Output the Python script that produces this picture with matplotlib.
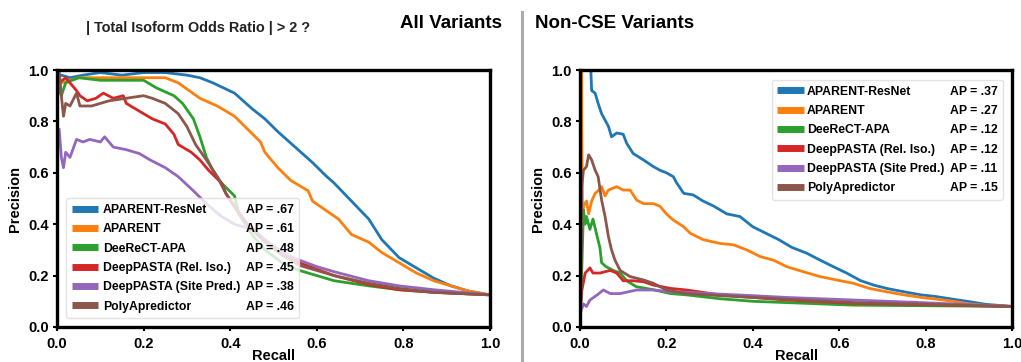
import matplotlib
matplotlib.use("Agg")
import matplotlib.pyplot as plt
from matplotlib.lines import Line2D

plt.rcParams['font.family'] = ['Liberation Sans', 'DejaVu Sans']
plt.rcParams['font.weight'] = 'bold'

models = ["APARENT-ResNet", "APARENT", "DeeReCT-APA", "DeepPASTA (Rel. Iso.)",
          "DeepPASTA (Site Pred.)", "PolyApredictor"]
colors = ["#1f77b4", "#ff7f0e", "#2ca02c", "#d62728", "#9467bd", "#8c564b"]
ap_all = [".67", ".61", ".48", ".45", ".38", ".46"]
ap_noncse = [".37", ".27", ".12", ".12", ".11", ".15"]

# ---------------- All Variants ----------------
all_resnet_r = [0.0, 0.01, 0.03, 0.06, 0.1, 0.15, 0.2, 0.25, 0.3, 0.33, 0.36, 0.41, 0.45, 0.48, 0.51,
                0.55, 0.59, 0.62, 0.64, 0.68, 0.72, 0.75, 0.79, 0.83, 0.87, 0.91, 0.95, 1.0]
all_resnet_p = [0.97, 0.98, 0.97, 0.98, 0.99, 0.98, 0.99, 0.99, 0.98, 0.97, 0.95, 0.91, 0.85, 0.81, 0.76,
                0.70, 0.64, 0.59, 0.56, 0.49, 0.42, 0.34, 0.27, 0.23, 0.19, 0.16, 0.14, 0.125]

all_aparent_r = [0.0, 0.01, 0.03, 0.05, 0.1, 0.15, 0.2, 0.25, 0.28, 0.33, 0.37, 0.41, 0.44, 0.47, 0.48,
                 0.51, 0.54, 0.58, 0.59, 0.62, 0.65, 0.68, 0.72, 0.75, 0.79, 0.83, 0.87, 0.91, 0.95, 1.0]
all_aparent_p = [0.98, 0.95, 0.96, 0.97, 0.97, 0.97, 0.97, 0.97, 0.95, 0.89, 0.86, 0.82, 0.77, 0.72, 0.68,
                 0.62, 0.57, 0.53, 0.49, 0.455, 0.42, 0.36, 0.33, 0.29, 0.25, 0.21, 0.18, 0.16, 0.14, 0.125]

all_deerect_r = [0.0, 0.005, 0.01, 0.02, 0.05, 0.1, 0.15, 0.2, 0.23, 0.27, 0.29, 0.315, 0.33, 0.345, 0.36,
                 0.38, 0.41, 0.42, 0.45, 0.48, 0.52, 0.56, 0.64, 0.72, 0.79, 0.87, 1.0]
all_deerect_p = [0.9, 0.93, 0.9, 0.95, 0.97, 0.96, 0.96, 0.96, 0.93, 0.90, 0.87, 0.81, 0.74, 0.66, 0.61,
                 0.56, 0.51, 0.44, 0.36, 0.30, 0.25, 0.22, 0.18, 0.16, 0.145, 0.135, 0.125]

all_deeppasta_r = [0.0, 0.005, 0.02, 0.03, 0.045, 0.053, 0.07, 0.09, 0.107, 0.13, 0.153, 0.16, 0.19, 0.22,
                   0.25, 0.27, 0.28, 0.31, 0.33, 0.35, 0.38, 0.39, 0.41, 0.44, 0.48, 0.52, 0.56, 0.64, 0.72,
                   0.79, 0.87, 1.0]
all_deeppasta_p = [0.95, 0.95, 0.97, 0.95, 0.92, 0.90, 0.88, 0.89, 0.91, 0.89, 0.90, 0.87, 0.84, 0.81,
                   0.79, 0.75, 0.71, 0.68, 0.65, 0.61, 0.56, 0.52, 0.47, 0.40, 0.34, 0.29, 0.25, 0.20, 0.165,
                   0.145, 0.135, 0.125]

all_site_r = [0.0, 0.005, 0.01, 0.015, 0.02, 0.03, 0.045, 0.06, 0.076, 0.1, 0.11, 0.13, 0.16, 0.19, 0.215,
              0.25, 0.28, 0.315, 0.345, 0.38, 0.41, 0.45, 0.48, 0.52, 0.56, 0.6, 0.64, 0.72, 0.79, 0.87, 1.0]
all_site_p = [0.70, 0.77, 0.66, 0.62, 0.68, 0.66, 0.73, 0.72, 0.73, 0.72, 0.74, 0.70, 0.69, 0.675, 0.65,
              0.62, 0.585, 0.53, 0.48, 0.43, 0.40, 0.38, 0.34, 0.29, 0.26, 0.235, 0.215, 0.18, 0.16, 0.145, 0.125]

all_polya_r = [0.0, 0.005, 0.01, 0.015, 0.02, 0.03, 0.045, 0.053, 0.08, 0.12, 0.16, 0.2, 0.22, 0.25, 0.28,
               0.30, 0.32, 0.345, 0.37, 0.39, 0.42, 0.45, 0.48, 0.52, 0.56, 0.64, 0.72, 0.79, 0.87, 1.0]
all_polya_p = [1.0, 1.0, 0.9, 0.82, 0.87, 0.86, 0.91, 0.86, 0.86, 0.88, 0.89, 0.90, 0.89, 0.87, 0.83,
               0.78, 0.71, 0.65, 0.585, 0.52, 0.44, 0.38, 0.33, 0.28, 0.24, 0.20, 0.17, 0.15, 0.135, 0.125]

# ---------------- Non-CSE Variants ----------------
nc_resnet_r = [0.025, 0.027, 0.035, 0.042, 0.05, 0.058, 0.066, 0.073, 0.085, 0.1, 0.108, 0.123, 0.147,
               0.17, 0.185, 0.2, 0.216, 0.224, 0.24, 0.262, 0.285, 0.31, 0.34, 0.37, 0.4, 0.43, 0.46,
               0.49, 0.525, 0.556, 0.586, 0.617, 0.65, 0.68, 0.71, 0.75, 0.79, 0.826, 0.864, 0.9, 0.94, 1.0]
nc_resnet_p = [1.0, 0.92, 0.91, 0.87, 0.83, 0.805, 0.78, 0.74, 0.755, 0.75, 0.715, 0.675, 0.65,
               0.624, 0.61, 0.60, 0.585, 0.56, 0.52, 0.514, 0.49, 0.47, 0.44, 0.43, 0.39, 0.365, 0.34,
               0.31, 0.287, 0.26, 0.235, 0.21, 0.18, 0.163, 0.15, 0.137, 0.125, 0.118, 0.108, 0.099, 0.088, 0.08]

nc_aparent_r = [0.004, 0.004, 0.006, 0.008, 0.015, 0.02, 0.027, 0.035, 0.042, 0.05, 0.058, 0.066, 0.085,
                0.1, 0.116, 0.131, 0.147, 0.17, 0.185, 0.2, 0.216, 0.24, 0.255, 0.285, 0.324, 0.355,
                0.386, 0.417, 0.448, 0.478, 0.517, 0.556, 0.594, 0.633, 0.67, 0.71, 0.75, 0.79, 0.826,
                0.864, 0.9, 0.94, 1.0]
nc_aparent_p = [1.0, 0.8, 0.40, 0.47, 0.49, 0.44, 0.49, 0.52, 0.53, 0.546, 0.51, 0.533, 0.546,
                0.533, 0.533, 0.494, 0.48, 0.48, 0.47, 0.44, 0.416, 0.39, 0.365, 0.34, 0.325, 0.32,
                0.30, 0.274, 0.26, 0.235, 0.215, 0.196, 0.183, 0.17, 0.15, 0.137, 0.125, 0.115, 0.108,
                0.10, 0.09, 0.084, 0.08]

nc_deerect_r = [0.002, 0.008, 0.012, 0.015, 0.023, 0.03, 0.04, 0.046, 0.05, 0.06, 0.077, 0.093, 0.108,
                0.13, 0.17, 0.21, 0.247, 0.324, 0.4, 0.478, 0.633, 1.0]
nc_deerect_p = [0.10, 0.455, 0.40, 0.43, 0.38, 0.42, 0.35, 0.31, 0.25, 0.235, 0.22, 0.21, 0.18,
                0.157, 0.145, 0.13, 0.125, 0.11, 0.10, 0.095, 0.085, 0.08]

nc_deeppasta_r = [0.002, 0.004, 0.012, 0.023, 0.03, 0.046, 0.07, 0.085, 0.1, 0.123, 0.147, 0.17, 0.21,
                  0.247, 0.324, 0.4, 0.478, 0.633, 1.0]
nc_deeppasta_p = [0.10, 0.14, 0.21, 0.23, 0.21, 0.21, 0.22, 0.21, 0.18, 0.18, 0.176, 0.163, 0.15,
                  0.144, 0.125, 0.115, 0.105, 0.092, 0.08]

nc_site_r = [0.002, 0.008, 0.015, 0.023, 0.04, 0.054, 0.07, 0.093, 0.131, 0.17, 0.21, 0.247, 0.324,
             0.4, 0.478, 0.633, 0.79, 1.0]
nc_site_p = [0.06, 0.09, 0.08, 0.105, 0.125, 0.144, 0.13, 0.13, 0.144, 0.144, 0.137, 0.135, 0.128,
             0.122, 0.115, 0.105, 0.095, 0.08]

nc_polya_r = [0.002, 0.004, 0.008, 0.015, 0.02, 0.027, 0.035, 0.042, 0.05, 0.058, 0.066, 0.073, 0.081,
              0.093, 0.116, 0.147, 0.17, 0.185, 0.2, 0.247, 0.324, 0.4, 0.478, 0.633, 1.0]
nc_polya_p = [0.10, 0.546, 0.61, 0.624, 0.67, 0.65, 0.61, 0.585, 0.494, 0.43, 0.35, 0.30, 0.26,
              0.22, 0.196, 0.183, 0.17, 0.157, 0.144, 0.13, 0.122, 0.115, 0.108, 0.095, 0.08]

all_r = [all_resnet_r, all_aparent_r, all_deerect_r, all_deeppasta_r, all_site_r, all_polya_r]
all_p = [all_resnet_p, all_aparent_p, all_deerect_p, all_deeppasta_p, all_site_p, all_polya_p]
nc_r = [nc_resnet_r, nc_aparent_r, nc_deerect_r, nc_deeppasta_r, nc_site_r, nc_polya_r]
nc_p = [nc_resnet_p, nc_aparent_p, nc_deerect_p, nc_deeppasta_p, nc_site_p, nc_polya_p]

ticks = [0.0, 0.2, 0.4, 0.6, 0.8, 1.0]
tick_labels = ["0.0", "0.2", "0.4", "0.6", "0.8", "1.0"]

fig = plt.figure(figsize=(10.21, 3.62), dpi=100)
ax1 = fig.add_axes([57/1021, 1-327/362, 433/1021, 257/362])
ax2 = fig.add_axes([580/1021, 1-327/362, 432/1021, 257/362])


def draw(ax, rs, ps, aps, loc, anchor, htp):
    for r, p, c in zip(rs, ps, colors):
        ax.plot(r, p, color=c, lw=2.0, solid_joinstyle='round')
    ax.set_xlim(0, 1)
    ax.set_ylim(0, 1)
    ax.set_xticks(ticks)
    ax.set_xticklabels(tick_labels)
    ax.set_yticks(ticks)
    ax.set_yticklabels(tick_labels)
    for s in ax.spines.values():
        s.set_linewidth(2.4)
    ax.tick_params(labelsize=10.5, length=3, width=1.5, pad=3)
    ax.tick_params(axis='x', pad=4)
    for lab in ax.get_xticklabels() + ax.get_yticklabels():
        lab.set_fontweight('bold')
    ax.set_xlabel("Recall", fontsize=10.5, fontweight='bold', labelpad=-1)
    ax.set_ylabel("Precision", fontsize=10.5, fontweight='bold', labelpad=4)
    handles = [Line2D([], [], color=c, lw=5, solid_capstyle='butt') for c in colors]
    handles += [Line2D([], [], color='none', lw=0) for _ in colors]
    labels = list(models) + ["AP = " + a for a in aps]
    hl = 2.2
    leg = ax.legend(handles, labels, ncol=2, loc=loc, bbox_to_anchor=anchor,
                    fontsize=8.8, handlelength=hl, handletextpad=htp,
                    columnspacing=-(hl + htp) + 0.45, labelspacing=0.6,
                    borderpad=0.45, borderaxespad=0.0, frameon=True, fancybox=True,
                    edgecolor='#dddddd', framealpha=0.8)
    for t in leg.get_texts():
        t.set_fontweight('bold')
    return leg


draw(ax1, all_r, all_p, ap_all, 'lower left', (0.021, 0.035), 0.35)
draw(ax2, nc_r, nc_p, ap_noncse, 'upper right', (0.979, 0.961), 0.2)

fig.text(198/1021, 1-32/362, "| Total Isoform Odds Ratio | > 2 ?", ha='center', va='baseline',
         fontsize=10.4, fontweight='bold', color='#222222')
fig.text(400/1021, 1-28/362, "All Variants", ha='left', va='baseline', fontsize=13.5,
         fontweight='bold', color='black')
fig.text(535/1021, 1-28/362, "Non-CSE Variants", ha='left', va='baseline', fontsize=13.5,
         fontweight='bold', color='black')
fig.add_artist(Line2D([522/1021, 522/1021], [0, 1-12/362], transform=fig.transFigure,
                      color='#aaaaaa', lw=2.2))

fig.savefig("out.png", dpi=100)
